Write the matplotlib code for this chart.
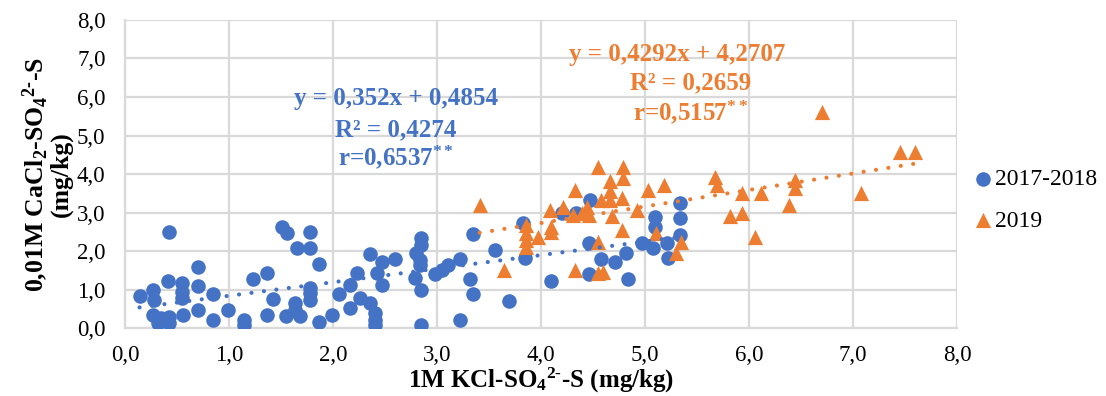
import numpy as np
import matplotlib
matplotlib.use("Agg")
import matplotlib.pyplot as plt

plt.rcParams['font.family'] = ['Liberation Serif', 'DejaVu Serif']
plt.rcParams['mathtext.fontset'] = 'custom'
plt.rcParams['mathtext.rm'] = 'Liberation Serif:bold'
plt.rcParams['mathtext.bf'] = 'Liberation Serif:bold'
plt.rcParams['mathtext.it'] = 'Liberation Serif:bold'

# 2017-2018 series (x = 1M KCl, y = 0,01M CaCl2)
x_1718 = [0.14, 0.27, 0.28, 0.27, 0.35, 0.32, 0.41, 0.42, 0.42, 0.42,
          0.55, 0.55, 0.55, 0.56, 0.70, 0.70, 0.70, 0.85, 0.85, 0.99,
          1.14, 1.14, 1.23, 1.37, 1.42, 1.37, 1.51, 1.56, 1.65, 1.78,
          1.78, 1.87, 1.78, 1.78, 1.78, 1.63, 1.55, 1.68, 1.63, 1.87,
          1.99, 2.06, 2.16, 2.16, 2.23, 2.26, 2.36, 2.36, 2.40, 2.40,
          2.40, 2.42, 2.47, 2.47, 2.60, 2.80, 2.85, 2.85, 2.84, 2.84,
          2.79, 2.85, 2.85, 2.98, 3.05, 3.11, 3.22, 3.32, 3.35, 3.22,
          3.35, 3.56, 3.69, 3.83, 3.85, 4.10, 4.20, 4.34, 4.47, 4.46,
          4.58, 4.46, 4.71, 4.82, 4.84, 4.97, 5.08, 5.10, 5.10, 5.21,
          5.22, 5.34, 5.34, 5.34]
y_1718 = [0.84, 0.99, 0.73, 0.34, 0.25, 0.12, 1.22, 2.49, 0.29, 0.12,
          1.16, 0.94, 0.77, 0.34, 1.59, 1.10, 0.47, 0.88, 0.21, 0.47,
          0.21, 0.08, 1.27, 1.42, 0.75, 0.34, 2.63, 2.46, 2.07, 2.49,
          2.07, 1.65, 1.03, 0.90, 0.73, 0.64, 0.31, 0.31, 0.47, 0.16,
          0.34, 0.88, 1.12, 0.51, 1.42, 0.77, 1.92, 0.64, 0.38, 0.21,
          0.08, 1.42, 1.12, 1.72, 1.78, 1.94, 2.33, 2.16, 1.77, 1.64,
          1.29, 0.99, 0.08, 1.40, 1.51, 1.64, 1.78, 1.27, 0.88, 0.21,
          2.43, 2.03, 0.71, 2.72, 1.81, 1.22, 2.98, 2.98, 3.32, 2.20,
          1.78, 1.40, 1.72, 1.94, 1.26, 2.20, 2.07, 2.89, 2.63, 2.20,
          1.81, 3.24, 2.85, 2.42]

# 2019 series
x_2019 = [3.41, 3.64, 3.86, 3.86, 3.86, 3.86, 3.97, 4.09, 4.10, 4.10,
          4.21, 4.31, 4.33, 4.33, 4.39, 4.44, 4.46, 4.55, 4.55, 4.55,
          4.58, 4.60, 4.66, 4.66, 4.66, 4.68, 4.79, 4.79, 4.78, 4.78,
          4.92, 5.03, 5.18, 5.11, 5.30, 5.35, 5.67, 5.69, 5.82, 5.93,
          5.93, 6.06, 6.12, 6.38, 6.44, 6.44, 6.70, 7.08, 7.45, 7.60]
y_2019 = [3.19, 1.51, 2.68, 2.46, 2.29, 2.11, 2.37, 3.06, 2.63, 2.50,
          3.15, 2.94, 3.58, 1.51, 2.98, 3.15, 2.94, 4.19, 2.24, 1.42,
          3.32, 1.46, 3.81, 3.55, 3.32, 2.90, 4.19, 3.89, 3.37, 2.55,
          3.06, 3.58, 3.71, 2.46, 1.94, 2.24, 3.93, 3.71, 2.90, 3.50,
          2.98, 2.37, 3.50, 3.19, 3.84, 3.63, 5.62, 3.50, 4.58, 4.58]

# linear trendlines as drawn (slope, intercept, x range)
trend_1718 = (0.352, 0.4854, 0.14, 5.35)
trend_2019 = (0.4292, 1.01, 3.41, 7.60)

ticks = np.arange(0, 8.01, 1.0)
tick_labels = [('%.1f' % t).replace('.', ',') for t in ticks]

blue = '#4472C4'
orange = '#ED7D31'
grid_c = '#D9D9D9'

fig = plt.figure(figsize=(11.06, 3.96), dpi=100)
ax = fig.add_axes([0.113, 0.1717, 0.7523, 0.7778])

ax.scatter(x_1718, y_1718, s=110, marker='o', color=blue, label='2017-2018', zorder=3, linewidths=0)
ax.scatter(x_2019, y_2019, s=120, marker='^', color=orange, label='2019', zorder=4, linewidths=0)

for (k, b, x0, x1), c in [(trend_1718, blue), (trend_2019, orange)]:
    xs = np.array([x0, x1])
    ax.plot(xs, k * xs + b, color=c, lw=3, linestyle=(0, (0.01, 3.0)),
            dash_capstyle='round', zorder=5)

ax.set_xlim(0, 8)
ax.set_ylim(0, 8)
ax.set_xticks(ticks)
ax.set_xticklabels(tick_labels)
ax.set_yticks(ticks)
ax.set_yticklabels(tick_labels)
ax.tick_params(length=0, labelsize=16.5)
ax.tick_params(axis='x', pad=12)
ax.tick_params(axis='y', pad=14)
ax.grid(True, color=grid_c, lw=1.6)
ax.set_axisbelow(True)
for sp in ['top', 'right']:
    ax.spines[sp].set_visible(False)
for sp in ['left', 'bottom']:
    ax.spines[sp].set_color(grid_c)
    ax.spines[sp].set_linewidth(1.6)

ax.set_xlabel(r'1M KCl-SO$_4$$^{2\text{-}}$-S (mg/kg)', fontsize=18, fontweight='bold', labelpad=0)
ax.set_ylabel('0,01M CaCl$_2$-SO$_4$$^{2\\text{-}}$-S\n(mg/kg)', fontsize=18.5,
              fontweight='bold', labelpad=3, linespacing=0.95)

# trendline annotations
ann = dict(fontsize=18, fontweight='bold', ha='center', va='center')
fig.text(396 / 1106, 1 - 98 / 396, 'y = 0,352x + 0,4854', color=blue, **ann)
fig.text(396 / 1106, 1 - 130 / 396, 'R² = 0,4274', color=blue, **ann)
fig.text(396 / 1106, 1 - 157 / 396, r'r=0,6537$^{**}$', color=blue, **ann)
fig.text(677 / 1106, 1 - 55 / 396, 'y = 0,4292x + 4,2707', color=orange, **ann)
fig.text(691 / 1106, 1 - 83 / 396, 'R² = 0,2659', color=orange, **ann)
fig.text(691 / 1106, 1 - 112 / 396, r'r=0,5157$^{**}$', color=orange, **ann)

fig.legend(loc='center left', bbox_to_anchor=(0.878, 1 - 200 / 396), frameon=False,
           fontsize=17, handletextpad=0.0, labelspacing=0.85, borderpad=0,
           borderaxespad=0, handlelength=1.0)

fig.savefig('out.png', dpi=100)
